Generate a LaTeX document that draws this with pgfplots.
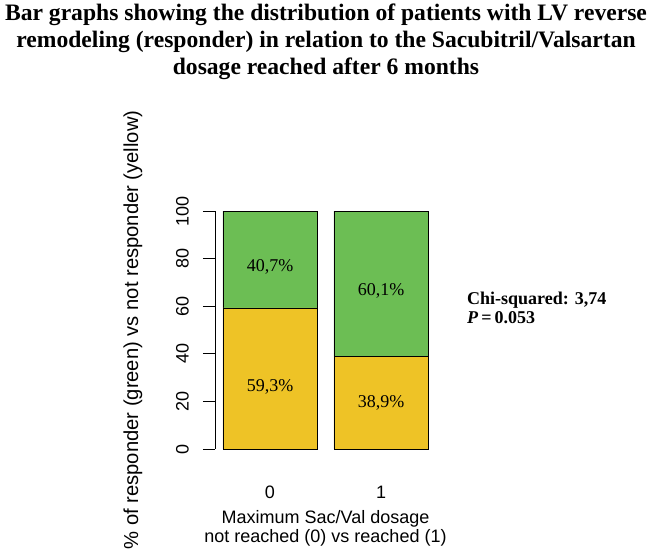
\documentclass[border=0pt]{standalone}
\usepackage{pgfplots}
\pgfplotsset{compat=1.18}
\usepackage{fontspec}
\setmainfont{Liberation Sans}
\newfontfamily\serif{Liberation Serif}
\definecolor{resp}{RGB}{108,190,84}
\definecolor{nonresp}{RGB}{238,195,38}
\begin{document}
\begin{tikzpicture}
\path[use as bounding box] (-215pt,-106pt) rectangle (437pt,449pt);
\begin{axis}[
  at={(0pt,0pt)}, anchor=south west,
  scale only axis, width=221pt, height=238pt,
  xmin=-0.495, xmax=1.495, ymin=0, ymax=100,
  axis lines=left, axis line style={-, line width=0.8pt},
  x axis line style={draw=none},
  ybar stacked, bar width=0.847,
  xtick={0,1}, xticklabels={0,1},
  xtick style={draw=none},
  ytick={0,20,40,60,80,100},
  tick align=outside,
  major tick length=12pt,
  ytick style={line width=0.8pt, black},
  /pgf/number format/assume math mode=true,
  yticklabel style={xshift=-14pt, rotate=90, anchor=south, inner sep=0pt, font=\fontsize{18}{20}\selectfont},
  xticklabel style={anchor=base, inner sep=0pt, yshift=-37pt, font=\fontsize{18}{20}\selectfont},
  ylabel={\% of responder (green) vs not responder (yellow)},
  ylabel style={at={(axis description cs:-0.371,0.5)}, anchor=center, inner sep=0pt, font=\fontsize{20.2}{22}\selectfont},
  xlabel={Maximum Sac/Val dosage\\not reached (0) vs reached (1)},
  xlabel style={at={(axis description cs:0.5,0)}, anchor=north, inner sep=0pt, yshift=-61pt, align=center, font=\fontsize{18}{19.5}\selectfont},
  clip=false,
]
\addplot[fill=nonresp, draw=black, line width=0.6pt] coordinates {(0,59.3) (1,38.9)};
\addplot[fill=resp, draw=black, line width=0.6pt] coordinates {(0,40.7) (1,61.1)};
\end{axis}
\begin{scope}[every node/.style={font=\serif\fontsize{18}{20}\selectfont}]
\node at (55pt,182.3pt) {40,7\%};
\node at (55pt,62.3pt) {59,3\%};
\node at (166pt,158pt) {60,1\%};
\node at (166pt,46pt) {38,9\%};
\end{scope}
\node[anchor=north, align=center, inner sep=0pt, font=\serif\bfseries\fontsize{23.6}{27}\selectfont] at (111pt,445pt)
  {Bar graphs showing the distribution of patients with LV reverse\\remodeling (responder) in relation to the Sacubitril/Valsartan\\dosage reached after 6 months};
\node[anchor=north west, align=left, inner sep=0pt, font=\serif\bfseries\fontsize{18}{19}\selectfont] at (252pt,157pt)
  {Chi-squared: 3,74\\\textit{P}\,=\,0.053};
\end{tikzpicture}
\end{document}
